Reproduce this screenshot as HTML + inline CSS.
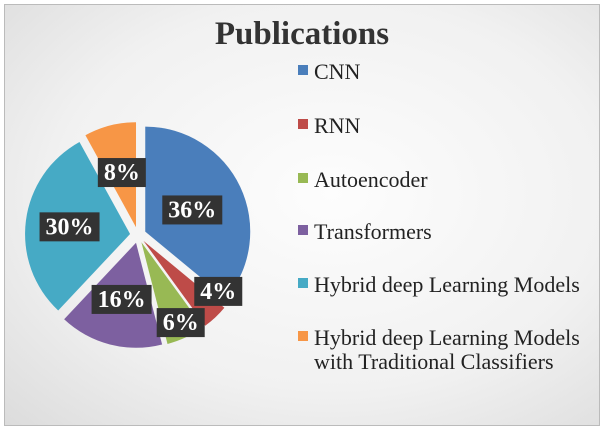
<!DOCTYPE html>
<html><head><meta charset="utf-8"><style>
body{margin:0;width:604px;height:430px;overflow:hidden;background:#fff;font-family:"Liberation Serif",serif}
#frame{position:absolute;left:4px;top:4px;width:594px;height:420px;border:1px solid #bbb;background:radial-gradient(ellipse at 55% 45%,#fdfdfd 0%,#f1f1f1 60%,#dcdcdc 100%)}
.lab{fill:#fff;font-weight:bold;font-size:24px;font-family:"Liberation Serif",serif}
.leg{font-size:22px;fill:#222;font-family:"Liberation Serif",serif}
</style></head><body>
<div id="frame"></div>
<svg id="svg" width="604" height="430" style="position:absolute;left:0;top:0">
<text x="302" y="44" text-anchor="middle" font-size="33" font-weight="bold" fill="#333">Publications</text>
<g id="pie"></g><g id="labels"></g><g id="legend"></g>
</svg>
<script>
const categories=["CNN","RNN","Autoencoder","Transformers","Hybrid deep Learning Models","Hybrid deep Learning Models|with Traditional Classifiers"];
const values=[36,4,6,16,30,8];
const colors=["#4a7ebb","#be4b48","#98b954","#7d60a0","#46aac5","#f79646"];
const legendY=[72,126,180,232,285,338];
const labelR=[52,90,89,58,61,57];
const labelDA=[0,-13,-1,0,0,0];
const ns="http://www.w3.org/2000/svg";
const cx=138,cy=235,R=105,ex=8;
const total=values.reduce((a,b)=>a+b,0);
const pie=document.getElementById('pie'),labs=document.getElementById('labels'),leg=document.getElementById('legend');
let a0=0;
values.forEach((v,i)=>{
  const a1=a0+v/total*2*Math.PI, mid=(a0+a1)/2;
  const ox=cx+ex*Math.sin(mid), oy=cy-ex*Math.cos(mid);
  const x0=ox+R*Math.sin(a0),y0=oy-R*Math.cos(a0),x1=ox+R*Math.sin(a1),y1=oy-R*Math.cos(a1);
  const p=document.createElementNS(ns,'path');
  p.setAttribute('d',`M${ox},${oy}L${x0},${y0}A${R},${R} 0 ${a1-a0>Math.PI?1:0} 1 ${x1},${y1}Z`);
  p.setAttribute('fill',colors[i]);
  
  
  pie.appendChild(p);
  const rr=labelR[i], la=mid+labelDA[i]*Math.PI/180;
  const lx=ox+rr*Math.sin(la), ly=oy-rr*Math.cos(la);
  const t=Math.round(v/total*100)+'%';
  const w=t.length>2?60:48;
  const r=document.createElementNS(ns,'rect');
  r.setAttribute('x',lx-w/2);r.setAttribute('y',ly-14);r.setAttribute('width',w);r.setAttribute('height',29);r.setAttribute('fill','#333');
  
  
  labs.appendChild(r);
  const tx=document.createElementNS(ns,'text');
  tx.setAttribute('x',lx);tx.setAttribute('y',ly+8);tx.setAttribute('text-anchor','middle');tx.setAttribute('class','lab');tx.textContent=t;
  
  
  labs.appendChild(tx);
  const sq=document.createElementNS(ns,'rect');
  sq.setAttribute('x',298);sq.setAttribute('y',legendY[i]-7);sq.setAttribute('width',10);sq.setAttribute('height',10);sq.setAttribute('fill',colors[i]);
  
  
  leg.appendChild(sq);
  categories[i].split('|').forEach((ln,k)=>{
    const lt=document.createElementNS(ns,'text');
    lt.setAttribute('x',314);lt.setAttribute('y',legendY[i]+7+k*24);lt.setAttribute('class','leg');lt.textContent=ln;
    
    
    leg.appendChild(lt);
  });
  a0=a1;
});
</script>
</body></html>
